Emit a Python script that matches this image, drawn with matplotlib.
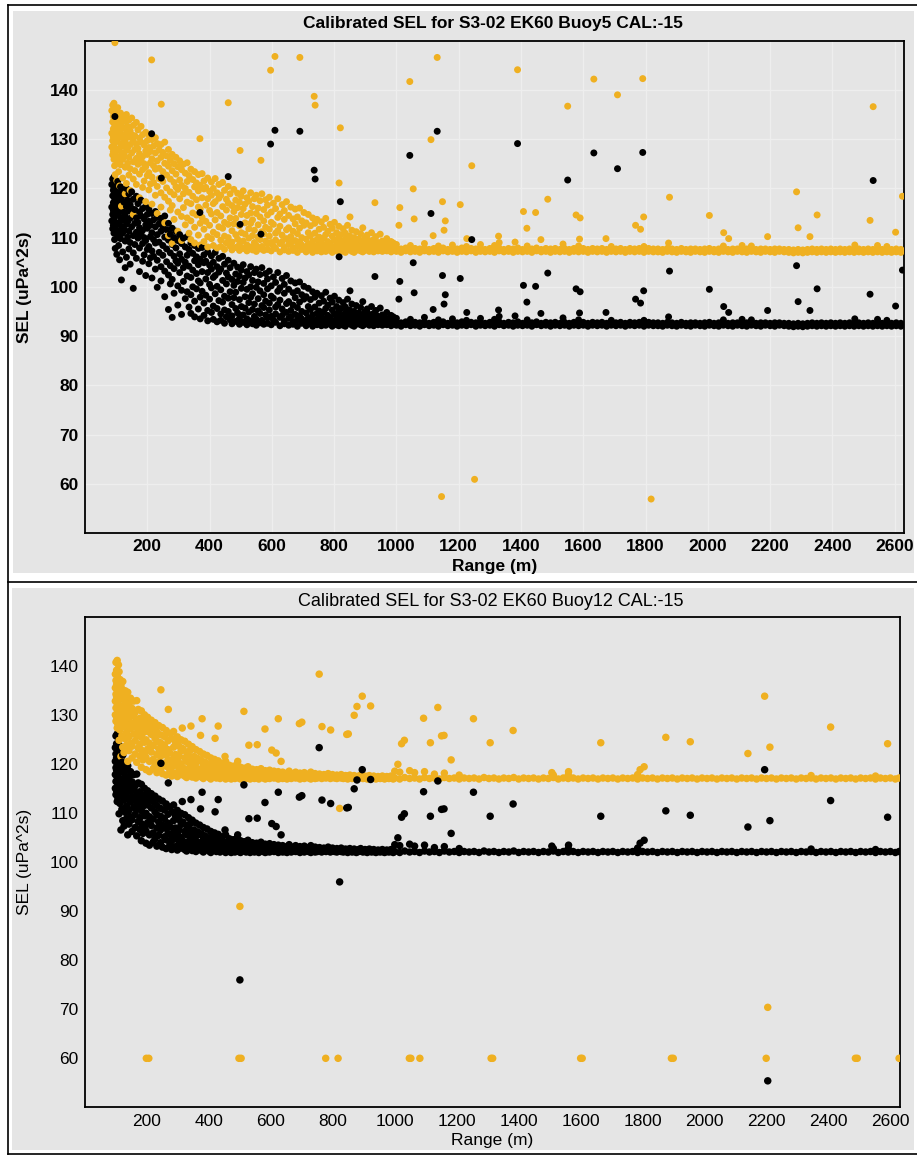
import numpy as np
import matplotlib
matplotlib.use("Agg")
import matplotlib.pyplot as plt
from matplotlib.patches import Rectangle
from matplotlib.lines import Line2D

W, H = 917, 1155
CAL = -15  # calibration offset shown in titles: calibrated = raw + CAL

titles = ["Calibrated SEL for S3-02 EK60 Buoy5 CAL:-15",
          "Calibrated SEL for S3-02 EK60 Buoy12 CAL:-15"]
xlabel = "Range (m)"
ylabel = "SEL (uPa^2s)"
xticks = [200, 400, 600, 800, 1000, 1200, 1400, 1600, 1800, 2000, 2200, 2400, 2600]
yticks = [60, 70, 80, 90, 100, 110, 120, 130, 140]

# ---------------- Buoy5 raw SEL (orange); calibrated (black) = raw + CAL -------------
b5_cloud = [
    (86, [135.8, 131.2, 128.4]), (89, [136.9, 133.5, 129.7, 126.8]), (91, [134.6, 132.1, 130.5, 127.5]),
    (93, [137.3, 135.1, 128.9, 125.9]), (95, [133.0, 131.6, 129.3, 124.6]), (97, [136.1, 134.2, 127.1, 122.8]),
    (99, [135.4, 132.7, 130.0, 126.2]), (102, [134.9, 129.9, 128.0, 121.6]), (105, [136.4, 133.3, 131.0, 125.3]),
    (108, [132.5, 130.3, 127.9, 123.4]), (111, [134.0, 131.5, 126.4, 120.5]), (114, [135.3, 129.1, 124.8]),
    (117, [133.1, 130.8, 127.3, 116.4]), (121, [134.5, 128.6, 125.9, 122.1]), (125, [132.2, 130.1, 126.7]),
    (129, [133.7, 129.4, 124.3, 118.9]), (133, [135.0, 131.3, 127.7, 121.0]), (137, [132.6, 128.2, 125.1]),
    (141, [133.9, 130.4, 126.3, 122.7]), (145, [131.7, 128.9, 124.0, 119.6]), (150, [134.3, 130.9, 127.2]),
    (155, [132.8, 129.6, 125.4, 121.9, 114.7]), (160, [130.7, 127.9, 123.6]), (165, [133.4, 129.0, 126.1, 120.8]),
    (170, [131.9, 128.1, 124.9]), (175, [130.2, 127.0, 122.9, 118.1]), (180, [132.6, 129.4, 125.8]),
    (185, [130.9, 126.5, 123.8, 120.2]), (190, [128.8, 125.0, 121.5]), (195, [131.4, 127.6, 124.4, 117.3]),
    (200, [129.7, 126.9, 122.6]), (205, [130.8, 128.3, 123.2, 119.7]), (210, [127.5, 125.2, 120.9]),
    (215, [129.9, 126.0, 122.3, 116.8]), (220, [128.6, 124.6, 121.2]), (226, [130.3, 127.2, 123.9, 118.6]),
    (232, [129.1, 125.6, 120.4, 114.9]), (238, [127.8, 124.1, 122.0]), (244, [128.9, 126.3, 119.1, 116.2]),
    (250, [127.3, 123.4, 121.4]), (256, [129.4, 125.1, 118.2, 113.0]), (262, [126.6, 122.7, 120.1]),
    (268, [127.9, 124.5, 117.4, 110.4]), (274, [125.7, 121.9, 119.3, 115.6]), (280, [126.9, 123.6, 116.5, 108.8]),
    (286, [125.0, 121.2, 118.7, 113.7]), (292, [126.3, 122.9, 120.3]), (298, [124.4, 119.8, 115.2, 111.3]),
    (304, [125.6, 121.7, 117.9]), (310, [123.8, 120.6, 114.3, 109.4]), (316, [124.9, 118.9, 116.1]),
    (322, [123.1, 120.0, 112.6]), (328, [125.2, 121.4, 117.2, 114.0]), (334, [122.6, 119.2, 110.9]),
    (340, [123.9, 116.9, 113.4, 109.6]), (346, [121.8, 118.4, 115.0]), (352, [123.4, 120.3, 112.1, 108.9]),
    (358, [121.1, 117.7, 114.6]), (364, [122.8, 119.5, 116.2, 110.5]), (370, [120.6, 115.8, 112.9, 108.5]),
    (376, [123.0, 118.1, 114.1]), (382, [121.5, 119.9, 111.7, 109.2]), (388, [120.2, 116.6, 113.3]),
    (394, [122.1, 117.9, 110.2, 108.1]), (400, [119.4, 115.5, 112.5]), (406, [121.3, 118.6, 114.8, 109.8]),
    (412, [120.0, 116.9, 111.1, 108.4]), (418, [122.0, 117.3, 113.6]), (424, [119.1, 115.1, 110.6, 107.9]),
    (430, [120.8, 118.0, 112.2]), (436, [118.6, 114.4, 109.5, 108.2]), (442, [121.2, 116.3, 111.9]),
    (448, [119.6, 113.1, 110.3, 107.6]), (454, [117.8, 115.6, 108.9]), (460, [120.4, 117.0, 112.7, 110.0]),
    (466, [118.9, 114.0, 108.3]), (472, [116.5, 111.4, 109.1, 107.5]), (478, [119.8, 115.3, 112.8]),
    (484, [117.6, 113.9, 110.6, 108.0]), (490, [119.0, 116.1, 109.7]), (496, [117.2, 112.4, 108.6, 107.4]),
    (502, [118.4, 114.7, 111.0]), (508, [119.5, 115.9, 109.3, 107.8]), (514, [116.8, 113.0, 110.7]),
    (520, [118.1, 114.5, 108.5, 107.3]), (526, [117.4, 111.8, 109.9]), (532, [119.1, 115.0, 112.9, 108.1]),
    (538, [116.3, 113.6, 110.4, 107.5]), (544, [117.9, 111.5, 109.0]), (550, [118.6, 114.9, 108.4, 107.2]),
    (556, [116.0, 112.6, 110.1]), (562, [117.5, 114.2, 109.6, 107.7]), (568, [118.9, 111.2, 108.2]),
    (574, [115.7, 113.4, 110.8, 107.4]), (580, [117.7, 112.1, 109.3]), (586, [116.6, 114.6, 108.7, 107.6]),
    (592, [118.2, 111.7, 110.3]), (598, [115.2, 113.1, 109.0, 107.3]), (605, [117.0, 112.7, 108.3]),
    (612, [115.9, 110.9, 109.5, 107.8]), (619, [117.9, 114.1, 111.4]), (626, [114.8, 112.3, 108.8, 107.1]),
    (633, [116.7, 110.5, 109.2]), (640, [115.5, 113.7, 108.0, 107.5]), (647, [117.3, 111.6, 109.8]),
    (654, [114.5, 112.0, 108.6, 107.2]), (661, [116.2, 110.2, 108.9]), (668, [113.8, 111.3, 107.9, 107.4]),
    (675, [115.8, 112.8, 109.4]), (682, [114.2, 110.8, 108.3, 107.0]), (689, [116.0, 111.9, 109.1]),
    (696, [113.4, 110.0, 108.5, 107.6]), (703, [115.1, 112.5, 108.0]), (710, [113.0, 109.7, 107.7, 107.1]),
    (717, [114.7, 111.0, 108.7]), (724, [112.4, 110.4, 107.5]), (731, [114.0, 109.3, 108.2, 107.0]),
    (738, [112.9, 110.9, 107.8]), (745, [113.7, 109.6, 108.4, 107.3]), (752, [111.7, 110.1, 107.6]),
    (759, [113.2, 108.9, 108.0, 107.1]), (766, [112.1, 109.9, 107.5]), (773, [113.9, 110.6, 108.6, 107.2]),
    (780, [111.3, 109.2, 107.8]), (787, [112.7, 108.7, 107.4]), (794, [111.9, 110.3, 108.1, 107.0]),
    (801, [113.1, 109.5, 107.7]), (808, [111.0, 108.8, 107.3]), (815, [112.3, 110.0, 108.3, 107.1]),
    (822, [110.6, 109.1, 107.6]), (829, [111.8, 108.5, 107.2]), (836, [110.9, 109.7, 107.9, 107.0]),
    (843, [112.5, 108.9, 107.5]), (850, [110.3, 109.3, 107.8]), (857, [111.5, 108.4, 107.2]),
    (864, [110.0, 109.0, 107.6, 107.0]), (871, [111.2, 108.6, 107.4]), (878, [109.7, 108.2, 107.8]),
    (885, [110.8, 109.4, 107.3]), (892, [112.0, 108.8, 107.6, 107.1]), (899, [109.9, 108.1, 107.4]),
    (906, [110.5, 109.1, 107.7]), (913, [109.4, 108.5, 107.2]), (920, [111.0, 108.0, 107.5]),
    (927, [109.6, 108.7, 107.1]), (934, [110.2, 107.9, 107.6]), (941, [109.0, 108.3, 107.3]),
    (948, [110.7, 108.6, 107.8]), (955, [109.3, 107.9, 107.2]), (962, [108.8, 108.2, 107.6]),
    (969, [109.8, 107.7, 107.3]), (976, [108.6, 108.0, 107.5]), (983, [109.2, 107.8, 107.1]),
    (990, [108.9, 108.4, 107.6]),
]

b5_band = [
    (1000, [107.2, 107.8, 108.6]), (1015, [107.0, 107.7]), (1030, [107.3, 107.9]), (1045, [107.1, 107.6, 108.4]),
    (1060, [107.2, 107.8]), (1075, [107.0, 107.7]), (1090, [107.3, 107.9, 108.8]), (1105, [107.1, 107.6]),
    (1120, [107.2, 107.8]), (1135, [107.0, 107.7, 108.3]), (1150, [107.3, 107.9]), (1165, [107.1, 107.6]),
    (1180, [107.2, 107.8, 108.5]), (1195, [107.0, 107.7]), (1210, [107.2, 107.9]), (1225, [107.1, 107.6, 108.2]),
    (1240, [107.3, 107.8]), (1255, [107.0, 107.7]), (1270, [107.2, 107.9, 108.6]), (1285, [107.1, 107.6]),
    (1300, [107.2, 107.8]), (1315, [107.0, 107.7, 108.4]), (1330, [107.3, 107.9, 109.0]), (1345, [107.1, 107.6]),
    (1360, [107.2, 107.8]), (1375, [107.0, 107.7]), (1390, [107.2, 107.9]), (1405, [107.1, 107.6]),
    (1420, [107.2, 107.8, 108.3]), (1435, [107.0, 107.7]), (1450, [107.3, 107.9]), (1465, [107.1, 107.6]),
    (1480, [107.2, 107.8]), (1495, [107.0, 107.7]), (1510, [107.2, 107.8]), (1525, [107.1, 107.6]),
    (1540, [107.2, 107.8]), (1555, [107.0, 107.6]), (1570, [107.2, 107.8]), (1585, [107.1, 107.7, 108.3]),
    (1600, [107.2, 107.8]), (1615, [107.0, 107.6]), (1630, [107.2, 107.8]), (1645, [107.1, 107.7]),
    (1660, [107.2, 107.8]), (1675, [107.0, 107.6]), (1690, [107.2, 107.8, 108.2]), (1705, [107.1, 107.7]),
    (1720, [107.2, 107.8]), (1735, [107.0, 107.6]), (1750, [107.2, 107.8]), (1765, [107.1, 107.7]),
    (1780, [107.2, 107.8]), (1795, [107.0, 107.6, 108.2]), (1810, [107.2, 107.8]), (1825, [107.1, 107.7]),
    (1840, [107.1, 107.7]), (1855, [107.0, 107.6]), (1870, [107.2, 107.8]), (1885, [107.1, 107.7]),
    (1900, [107.0, 107.6]), (1915, [107.2, 107.8]), (1930, [107.1, 107.6]), (1945, [107.0, 107.7]),
    (1960, [107.2, 107.7]), (1975, [107.1, 107.6]), (1990, [107.0, 107.7]), (2005, [107.2, 107.8]),
    (2020, [107.1, 107.6]), (2035, [107.0, 107.7]), (2050, [107.2, 107.8, 108.3]), (2065, [107.1, 107.6]),
    (2080, [107.0, 107.7]), (2095, [107.2, 107.7]), (2110, [107.1, 107.6, 108.4]), (2125, [107.0, 107.7]),
    (2140, [107.2, 107.8, 108.3]), (2155, [107.1, 107.6]), (2170, [107.0, 107.7]), (2185, [107.2, 107.7]),
    (2200, [107.1, 107.6]), (2215, [107.0, 107.7]), (2230, [107.2, 107.7]), (2245, [107.1, 107.6]),
    (2260, [107.0, 107.6]), (2275, [106.9, 107.5]), (2290, [107.0, 107.6]), (2305, [106.9, 107.5]),
    (2320, [107.0, 107.6]), (2335, [107.1, 107.7]), (2350, [107.0, 107.6]), (2365, [107.1, 107.7]),
    (2380, [107.0, 107.6]), (2395, [107.1, 107.7]), (2410, [107.0, 107.6]), (2425, [107.1, 107.7]),
    (2440, [107.0, 107.6]), (2455, [107.1, 107.7]), (2470, [107.0, 107.6]), (2485, [107.1, 107.7]),
    (2500, [107.0, 107.6]), (2515, [107.1, 107.7]), (2530, [107.0, 107.6]), (2545, [107.1, 107.8, 108.4]),
    (2560, [107.0, 107.6]), (2575, [107.1, 107.7, 108.2]), (2590, [107.0, 107.6]), (2605, [107.1, 107.7]),
    (2620, [107.0, 107.6]),
]

b5_outliers = [
    (96, 149.6), (214, 146.1), (245, 137.1), (460, 137.4), (369, 130.1), (498, 127.7), (565, 125.7),
    (596, 144.0), (610, 146.8), (690, 146.6), (736, 138.7), (739, 136.9), (820, 132.3), (816, 121.1),
    (851, 114.2), (931, 117.1), (1008, 112.5), (1011, 116.1), (1043, 141.7), (1054, 119.9), (1057, 113.8),
    (1111, 129.9), (1118, 110.4), (1131, 146.6), (1148, 117.3), (1153, 111.5), (1157, 113.4), (1205, 116.7),
    (1226, 109.8), (1242, 124.6), (1328, 110.3), (1381, 109.1), (1389, 144.1), (1408, 115.3), (1419, 111.9),
    (1447, 115.1), (1464, 109.6), (1486, 117.8), (1535, 108.7), (1550, 136.7), (1577, 114.6), (1590, 114.0),
    (1588, 109.7), (1634, 142.2), (1673, 109.8), (1710, 139.0), (1768, 112.5), (1784, 111.7), (1791, 142.3),
    (1794, 114.2), (1874, 108.9), (1877, 118.2), (2005, 114.5), (2051, 111.0), (2067, 109.8), (2192, 110.2),
    (2285, 119.3), (2290, 112.0), (2328, 110.2), (2351, 114.6), (2472, 108.5), (2521, 113.5), (2531, 136.6),
    (2603, 111.1), (2625, 118.4), (1145, 57.4), (1251, 60.9), (1818, 56.9),
]

# ---------------- Buoy12 raw SEL (orange); calibrated (black) = raw + CAL ------------
b12_cloud = [
    (98, [138.4, 135.6, 132.9, 130.1]), (100, [140.8, 137.1, 134.3, 131.5, 128.8]), (102, [139.2, 136.3, 133.8, 129.6]),
    (104, [141.2, 138.0, 135.1, 132.4, 127.4]), (106, [137.6, 134.7, 130.8, 128.2]), (108, [140.3, 136.8, 133.2, 131.0]),
    (110, [138.9, 135.9, 129.3, 124.9]), (113, [137.3, 134.0, 132.0, 127.0]), (116, [136.2, 133.5, 130.4, 121.6]),
    (119, [135.4, 131.8, 128.6, 125.8]), (122, [136.9, 134.6, 129.9, 123.5]), (126, [133.2, 131.1, 127.7, 122.4]),
    (130, [135.0, 132.6, 128.9, 125.2]), (134, [133.9, 130.3, 126.5, 123.9]), (138, [134.7, 131.6, 128.1, 120.6]),
    (142, [132.3, 129.5, 125.6, 122.8]), (147, [133.5, 130.7, 127.3, 124.3]), (152, [131.4, 128.4, 123.7, 121.3]),
    (157, [132.9, 129.8, 126.2]), (162, [130.6, 127.6, 124.8, 122.1]), (167, [133.0, 128.9, 125.9, 120.4]),
    (172, [131.2, 126.8, 123.3]), (177, [129.4, 127.9, 124.1, 121.7]), (182, [130.9, 125.5, 122.9, 119.4]),
    (187, [128.7, 126.4, 120.9]), (192, [130.1, 127.4, 124.5, 122.2]), (197, [128.3, 125.0, 121.4, 118.9]),
    (202, [129.6, 126.7, 123.1]), (208, [127.9, 124.3, 120.6, 118.5]), (214, [129.0, 126.1, 122.5]),
    (220, [127.4, 123.8, 121.0, 119.1]), (226, [128.5, 125.3, 119.8]), (232, [126.6, 124.7, 122.0, 118.3]),
    (238, [127.9, 123.2, 120.5]), (244, [126.0, 124.4, 121.6, 119.0]), (250, [127.5, 122.6, 118.1]),
    (256, [125.7, 123.9, 120.2]), (262, [126.9, 121.9, 119.6, 117.8]), (268, [124.8, 123.0, 120.9]),
    (274, [126.3, 122.3, 118.7]), (280, [125.3, 120.4, 119.4, 117.6]), (286, [126.7, 123.5, 121.2]),
    (292, [124.5, 122.0, 118.2]), (298, [125.6, 120.8, 119.7, 117.5]), (304, [123.7, 121.6, 118.9]),
    (310, [125.0, 122.7, 120.1, 117.9]), (316, [123.2, 119.3, 118.4]), (322, [124.7, 121.3, 117.6]),
    (328, [122.5, 120.6, 119.0, 117.3]), (334, [124.1, 121.9, 118.6]), (340, [122.9, 119.9, 117.8]),
    (346, [123.6, 120.9, 118.9, 117.4]), (352, [121.6, 119.5, 118.1]), (358, [123.0, 120.3, 117.7, 117.2]),
    (364, [121.2, 119.1, 118.5]), (370, [122.6, 120.7, 117.9]), (376, [120.8, 118.8, 117.4]),
    (382, [122.1, 119.7, 118.3, 117.1]), (388, [120.4, 118.6, 117.6]), (394, [121.8, 119.3, 118.0]),
    (400, [120.0, 118.9, 117.3]), (406, [121.3, 119.6, 118.2, 117.0]), (412, [120.3, 118.4, 117.5]),
    (418, [121.0, 119.0, 117.9]), (424, [119.7, 118.7, 117.2]), (430, [120.7, 118.1, 117.6]),
    (436, [119.4, 118.8, 117.1]), (442, [120.2, 118.3, 117.7]), (448, [119.2, 118.6, 117.4]),
    (454, [120.6, 117.9, 117.0]), (460, [119.0, 118.4, 117.5]), (466, [119.8, 118.1, 117.2]),
    (472, [118.8, 117.7, 117.0]), (478, [119.6, 118.5, 117.4]), (484, [118.6, 117.9, 117.1]),
    (490, [119.9, 118.2, 117.6]), (496, [118.9, 117.5, 117.2]), (502, [119.4, 118.3, 117.0]),
    (508, [118.5, 117.8, 117.3]), (514, [119.2, 118.0, 117.5]), (520, [118.7, 117.6, 117.1]),
    (526, [119.5, 118.2, 117.3]), (533, [118.3, 117.7, 117.0]), (540, [119.0, 117.9, 117.4]),
    (547, [118.4, 117.5, 117.1]), (554, [118.9, 118.0, 117.3]), (561, [118.2, 117.6, 117.0]),
    (568, [119.1, 117.8, 117.4]), (575, [118.1, 117.5, 117.2]), (582, [118.7, 117.9, 117.0]),
    (589, [118.0, 117.4, 117.2]), (596, [118.8, 117.7, 117.1]), (603, [118.3, 117.5]),
    (610, [118.6, 117.8, 117.2]), (617, [117.9, 117.3]), (624, [118.5, 117.6, 117.0]),
    (631, [118.0, 117.4]), (638, [118.4, 117.7, 117.1]), (645, [117.8, 117.2]),
    (652, [118.2, 117.5, 117.0]), (659, [118.6, 117.3]), (666, [117.9, 117.6, 117.1]),
    (673, [118.1, 117.4]), (680, [118.4, 117.7, 117.2]), (687, [117.8, 117.3]),
    (694, [118.2, 117.5, 117.0]), (701, [117.9, 117.3]), (708, [118.3, 117.6, 117.1]),
    (715, [117.8, 117.4]), (722, [118.0, 117.2]), (729, [118.4, 117.6, 117.0]),
    (736, [117.7, 117.3]), (743, [118.1, 117.5, 117.1]), (750, [117.8, 117.2]),
    (757, [118.0, 117.4]), (764, [117.6, 117.1]), (771, [117.9, 117.3]), (778, [117.7, 117.2]),
    (785, [118.1, 117.4]), (792, [117.6, 117.1]), (799, [117.9, 117.3]), (806, [117.5, 117.2]),
    (813, [117.8, 117.1]), (820, [117.6, 117.3]), (827, [117.9, 117.2]), (834, [117.5, 117.1]),
    (841, [117.7, 117.3]), (848, [117.6, 117.0]), (855, [117.8, 117.3]), (862, [117.5, 117.1]),
    (869, [117.7, 117.2]), (876, [117.4, 117.0]), (883, [117.6, 117.2]), (890, [117.8, 117.3]),
    (897, [117.4, 117.1]), (904, [117.6, 117.2]), (911, [117.5, 117.0]), (918, [117.7, 117.3]),
    (925, [117.4, 117.1]), (932, [117.6, 117.2]), (939, [117.3, 117.0]), (946, [117.5, 117.2]),
    (953, [117.4, 117.1]), (960, [117.6, 117.2]), (967, [117.3, 117.0]), (974, [117.5, 117.2]),
    (981, [117.4, 117.1]), (988, [117.6, 117.2]), (995, [117.3, 117.0]),
]

b12_band = [
    (1000, [117.2, 118.6]), (1016, [117.0, 118.4]), (1032, [117.3]), (1048, [117.1, 118.7]),
    (1064, [117.2, 118.3]), (1080, [117.0]), (1096, [117.3, 118.5]), (1112, [117.1]),
    (1128, [117.2, 118.0]), (1144, [117.0]), (1160, [117.3, 118.2]), (1176, [117.1]),
    (1192, [117.2]), (1208, [117.0, 117.8]), (1224, [117.2]), (1240, [117.1]),
    (1256, [117.2]), (1272, [117.0]), (1288, [117.3]), (1304, [117.1]),
    (1320, [117.2]), (1336, [117.0]), (1352, [117.2]), (1368, [117.1]),
    (1384, [117.3]), (1400, [117.0]), (1416, [117.2]), (1432, [117.1]),
    (1448, [117.2]), (1464, [117.0]), (1480, [117.2]), (1496, [117.1]),
    (1512, [117.3, 117.8]), (1528, [117.0]), (1544, [117.2]), (1560, [117.1, 117.8]),
    (1576, [117.2]), (1592, [117.0]), (1608, [117.2]), (1624, [117.1]),
    (1640, [117.2]), (1656, [117.0]), (1672, [117.2]), (1688, [117.1]),
    (1704, [117.2]), (1720, [117.0]), (1736, [117.2]), (1752, [117.1]),
    (1768, [117.2]), (1784, [117.0, 117.9]), (1800, [117.2]), (1816, [117.1]),
    (1832, [117.2]), (1848, [117.0]), (1864, [117.2]), (1880, [117.1]),
    (1896, [117.2]), (1912, [117.0]), (1928, [117.2]), (1944, [117.1]),
    (1960, [117.2]), (1976, [117.0]), (1992, [117.2]), (2008, [117.1]),
    (2024, [117.2]), (2040, [117.0]), (2056, [117.2]), (2072, [117.1]),
    (2088, [117.2]), (2104, [117.0]), (2120, [117.2]), (2136, [117.1]),
    (2152, [117.2]), (2168, [117.0]), (2184, [117.2]), (2200, [117.1]),
    (2216, [117.2]), (2232, [117.0]), (2248, [117.2]), (2264, [117.1]),
    (2280, [117.2]), (2296, [117.0]), (2312, [117.2]), (2328, [117.1]),
    (2344, [117.2, 117.7]), (2360, [117.0]), (2376, [117.2]), (2392, [117.1]),
    (2408, [117.2]), (2424, [117.0]), (2440, [117.2]), (2456, [117.1]),
    (2472, [117.2]), (2488, [117.0]), (2504, [117.2]), (2520, [117.1]),
    (2536, [117.2]), (2552, [117.0, 117.6]), (2568, [117.2]), (2584, [117.1]),
    (2600, [117.2]), (2616, [117.0]), (2628, [117.2]),
]

b12_outliers = [
    (245, 135.2), (269, 131.2), (314, 127.4), (342, 127.8), (373, 125.9), (378, 129.3), (420, 125.3),
    (430, 127.8), (452, 121.6), (493, 120.6), (513, 130.8), (529, 123.9), (556, 124.0), (581, 127.2),
    (603, 122.9), (617, 122.3), (624, 129.3), (633, 120.6), (692, 128.3), (700, 128.6), (756, 138.4),
    (765, 127.7), (793, 127.0), (822, 111.0), (845, 126.1), (850, 126.2), (869, 130.0), (878, 131.8),
    (895, 133.9), (922, 131.9), (1010, 120.0), (1022, 124.2), (1031, 124.9), (1093, 129.4), (1115, 124.4),
    (1139, 131.6), (1151, 125.8), (1159, 125.9), (1182, 120.9), (1254, 129.3), (1308, 124.4), (1382, 126.9),
    (1507, 118.3), (1561, 118.5), (1665, 124.4), (1792, 118.9), (1805, 119.5), (1875, 125.5), (1954, 124.6),
    (2140, 122.2), (2194, 133.9), (2211, 123.5), (2407, 127.6), (2591, 124.2), (500, 91.0), (2204, 70.4),
    (198, 60.0), (206, 60.0), (497, 60.0), (504, 60.0), (777, 60.0), (817, 60.0), (1047, 60.0),
    (1052, 60.0), (1081, 60.0), (1311, 60.0), (1316, 60.0), (1600, 60.0), (1605, 60.0), (1893, 60.0),
    (1899, 60.0), (2199, 60.0), (2487, 60.0), (2493, 60.0), (2628, 60.0),
]

ORANGE = "#efb021"
BLACK = "#000000"
BG = "#e5e5e5"


def gather(cols, pts):
    xs, ys = [], []
    for x, vals in cols:
        for v in vals:
            xs.append(x)
            ys.append(v)
    for x, v in pts:
        xs.append(x)
        ys.append(v)
    return np.array(xs, float), np.array(ys, float)


def fx(px):
    return px / W


def fy(py):
    return 1 - py / H


fig = plt.figure(figsize=(W / 100, H / 100), dpi=100)
fig.patch.set_facecolor("white")

# panel backgrounds
fig.add_artist(Rectangle((fx(13), fy(573.3)), (913.7 - 13) / W, (573.3 - 11) / H,
                         transform=fig.transFigure, facecolor=BG, edgecolor="none", zorder=0))
fig.add_artist(Rectangle((fx(12), fy(1150)), (913.7 - 12) / W, (1150 - 588.3) / H,
                         transform=fig.transFigure, facecolor=BG, edgecolor="none", zorder=0))
# frame lines
for (x0, y0, x1, y1) in [(8, 5, 8, 1154), (8, 5, 917, 5), (8, 581.7, 917, 581.7), (8, 1153.5, 917, 1153.5)]:
    fig.add_artist(Line2D([fx(x0), fx(x1)], [fy(y0), fy(y1)], color="black", lw=1.2,
                          transform=fig.transFigure, zorder=1))

panels = [
    dict(box=(85, 40.7, 904, 533), cols=b5_cloud + b5_band, pts=b5_outliers, weight="bold",
         size=25, grid=True, title_base=28.3, xl_base=570.5, title=titles[0], tsize=12.5),
    dict(box=(85, 617.3, 899.7, 1107.3), cols=b12_cloud + b12_band, pts=b12_outliers, weight="normal",
         size=29, grid=False, title_base=606, xl_base=1144.5, title=titles[1], tsize=13),
]

FONT = "Liberation Sans"
for p in panels:
    l, t, r, b = p["box"]
    ax = fig.add_axes([fx(l), fy(b), (r - l) / W, (b - t) / H])
    ax.set_facecolor(BG)
    ax.set_xlim(0, 2630)
    ax.set_ylim(50, 150)
    ax.set_xticks(xticks)
    ax.set_yticks(yticks)
    ax.tick_params(length=0, labelsize=12.5)
    ax.tick_params(axis="y", pad=4.5)
    ax.tick_params(axis="x", pad=4.5)
    for lab in ax.get_xticklabels() + ax.get_yticklabels():
        lab.set_fontfamily(FONT)
        lab.set_fontweight(p["weight"])
    for s in ax.spines.values():
        s.set_linewidth(1.3)
        s.set_color("black")
    if p["grid"]:
        ax.grid(True, color="#eeeeee", lw=1.0)
        ax.set_axisbelow(True)

    rx, ry = gather(p["cols"], p["pts"])
    cy = ry + CAL
    xs = np.column_stack([rx, rx]).ravel()
    ys = np.column_stack([ry, cy]).ravel()
    colors = [ORANGE, BLACK] * len(rx)
    ax.scatter(xs, ys, s=p["size"], c=colors, linewidths=0, zorder=3)

    cx = (l + r) / 2
    fig.text(fx(cx - 2), fy(p["title_base"]), p["title"], ha="center", va="baseline",
             fontsize=p["tsize"], fontfamily=FONT, fontweight=p["weight"])
    fig.text(fx(cx), fy(p["xl_base"]), xlabel, ha="center", va="baseline",
             fontsize=12.5, fontfamily=FONT, fontweight=p["weight"])
    fig.text(fx(25), fy((t + b) / 2), ylabel, ha="center", va="center", rotation=90,
             fontsize=12.5, fontfamily=FONT, fontweight=p["weight"])

fig.savefig("out.png", dpi=100)
